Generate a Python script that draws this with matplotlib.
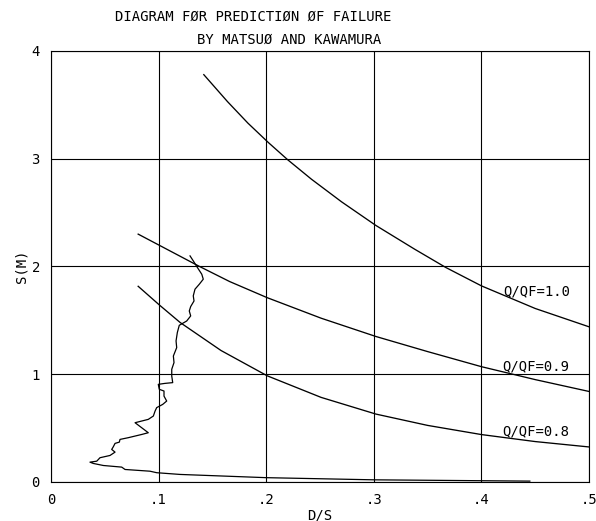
"""Matsuo-Kawamura failure prediction diagram: D/S vs S with Q/QF curves."""

import matplotlib
matplotlib.use("Agg")
import matplotlib.pyplot as plt

# Q/QF reference curves
q10_ds = [0.142, 0.164, 0.183, 0.202, 0.220, 0.242, 0.270, 0.302, 0.338, 0.367, 0.400, 0.450, 0.500]
q10_s = [3.78, 3.53, 3.33, 3.15, 2.99, 2.81, 2.60, 2.38, 2.16, 1.99, 1.82, 1.61, 1.44]

q09_ds = [0.081, 0.100, 0.138, 0.166, 0.201, 0.251, 0.302, 0.350, 0.400, 0.450, 0.500]
q09_s = [2.30, 2.20, 2.00, 1.86, 1.71, 1.52, 1.35, 1.21, 1.07, 0.95, 0.84]

q08_ds = [0.081, 0.101, 0.120, 0.158, 0.201, 0.251, 0.302, 0.350, 0.400, 0.450, 0.500]
q08_s = [1.816, 1.64, 1.48, 1.22, 0.985, 0.785, 0.630, 0.525, 0.440, 0.375, 0.325]

# measured embankment record
meas_ds = [0.1292, 0.1322, 0.1360, 0.1401, 0.1415, 0.1378, 0.1338, 0.1322, 0.1329, 0.1298,
           0.1285, 0.1298, 0.1261, 0.1192, 0.1174, 0.1162, 0.1168, 0.1137, 0.1143, 0.1122,
           0.1122, 0.1131, 0.1059, 0.0997, 0.1006, 0.1050, 0.1050, 0.1075, 0.1038, 0.0982,
           0.0967, 0.0951, 0.0904, 0.0781, 0.0904, 0.0843, 0.0718, 0.0641, 0.0635, 0.0595,
           0.0579, 0.0564, 0.0595, 0.0548, 0.0455, 0.0425, 0.0362, 0.0393, 0.0486, 0.0657,
           0.0688, 0.0920, 0.0982, 0.1199, 0.200, 0.300, 0.445]
meas_s = [2.098, 2.052, 1.991, 1.928, 1.882, 1.835, 1.789, 1.727, 1.680, 1.628,
          1.587, 1.541, 1.494, 1.454, 1.387, 1.309, 1.247, 1.169, 1.108, 1.046,
          0.983, 0.922, 0.915, 0.906, 0.860, 0.844, 0.797, 0.751, 0.720, 0.690,
          0.658, 0.612, 0.581, 0.550, 0.457, 0.441, 0.411, 0.395, 0.370, 0.358,
          0.327, 0.302, 0.277, 0.246, 0.225, 0.193, 0.184, 0.172, 0.153, 0.138,
          0.116, 0.100, 0.086, 0.070, 0.040, 0.020, 0.008]

x_ticks = [0, 0.1, 0.2, 0.3, 0.4, 0.5]
x_labels = ["0", ".1", ".2", ".3", ".4", ".5"]
y_ticks = [0, 1, 2, 3, 4]
y_labels = ["0", "1", "2", "3", "4"]

curve_labels = ["Q/QF=1.0", "Q/QF=0.9", "Q/QF=0.8"]
label_pos = [(0.420, 1.773), (0.419, 1.076), (0.419, 0.472)]

plt.rcParams["font.family"] = ["DejaVu Sans Mono"]
plt.rcParams["font.size"] = 10

fig = plt.figure(figsize=(5.96, 5.21), dpi=100)
ax = fig.add_axes([0.0856, 0.0749, 0.9027, 0.8273])

for xs, ys in [(q10_ds, q10_s), (q09_ds, q09_s), (q08_ds, q08_s)]:
    ax.plot(xs, ys, color="black", lw=0.95)
ax.plot(meas_ds, meas_s, color="black", lw=0.9)

for text, (tx, ty) in zip(curve_labels, label_pos):
    ax.text(tx, ty, text, ha="left", va="center")

ax.set_xlim(0, 0.5)
ax.set_ylim(0, 4)
ax.set_xticks(x_ticks)
ax.set_xticklabels(x_labels)
ax.set_yticks(y_ticks)
ax.set_yticklabels(y_labels)
ax.tick_params(length=0, pad=8)
ax.grid(True, color="black", lw=0.8)
for sp in ax.spines.values():
    sp.set_linewidth(0.8)
ax.set_xlabel("D/S", labelpad=1)
ax.set_ylabel("S(M)", labelpad=2)

fig.text(115 / 596, 1 - 17 / 521, "DIAGRAM FØR PREDICTIØN ØF FAILURE", ha="left", va="center")
fig.text(197 / 596, 1 - 40 / 521, "BY MATSUØ AND KAWAMURA", ha="left", va="center")

fig.savefig("out.png", dpi=100)
plt.close(fig)
